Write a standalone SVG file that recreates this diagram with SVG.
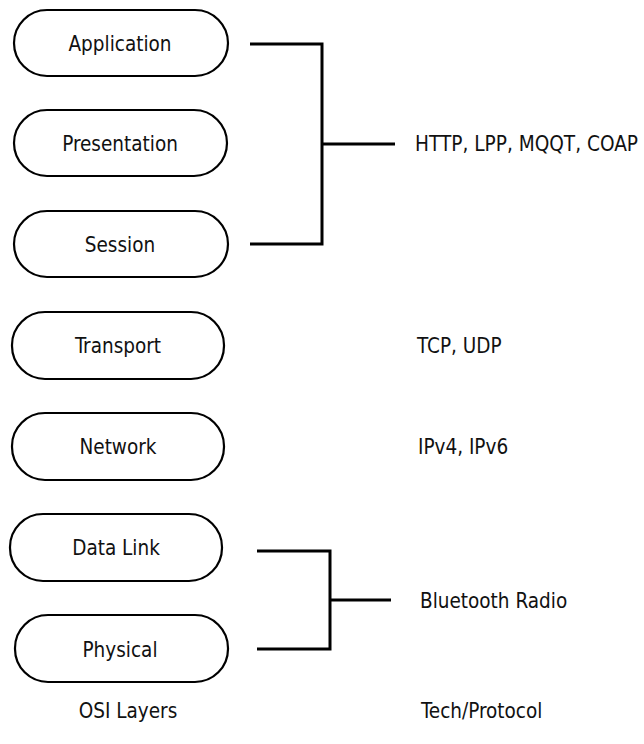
<svg xmlns="http://www.w3.org/2000/svg" width="644" height="744" viewBox="0 0 644 744">
<style>
.box{fill:#fff;stroke:#000;stroke-width:2.2}
text{font-family:"DejaVu Sans Condensed","Liberation Sans",Arial,sans-serif;font-stretch:condensed;font-size:20.5px;fill:#111}
.lbl{text-anchor:middle}
.rt{text-anchor:start}
.con{fill:none;stroke:#000;stroke-width:3;stroke-linejoin:miter}
</style>
<rect width="644" height="744" fill="#fff"/>
<g id="application"><rect class="box" x="14" y="10" width="214" height="66" rx="33"/><text class="lbl" x="120" y="51">Application</text></g>
<g id="presentation"><rect class="box" x="14" y="110" width="213" height="66" rx="33"/><text class="lbl" x="120" y="151">Presentation</text></g>
<g id="session"><rect class="box" x="14" y="211" width="214" height="66" rx="33"/><text class="lbl" x="120" y="252">Session</text></g>
<g id="transport"><rect class="box" x="12" y="312" width="212" height="67" rx="33"/><text class="lbl" x="118" y="353">Transport</text></g>
<g id="network"><rect class="box" x="12" y="413" width="212" height="67" rx="33"/><text class="lbl" x="118" y="454">Network</text></g>
<g id="datalink"><rect class="box" x="10" y="514" width="212" height="67" rx="33"/><text class="lbl" x="116" y="555">Data Link</text></g>
<g id="physical"><rect class="box" x="15" y="615" width="213" height="67" rx="33"/><text class="lbl" x="120" y="657">Physical</text></g>
<g id="connectors">
<path class="con" d="M250 44 H322 V244 H250"/>
<path class="con" d="M322 144 H395"/>
<path class="con" d="M257 551 H330 V649 H257"/>
<path class="con" d="M330 600 H391"/>
</g>
<g id="protocols">
<text class="rt" x="415" y="151" textLength="223" lengthAdjust="spacingAndGlyphs">HTTP, LPP, MQQT, COAP</text>
<text class="rt" x="417" y="353">TCP, UDP</text>
<text class="rt" x="418" y="454">IPv4, IPv6</text>
<text class="rt" x="420" y="608">Bluetooth Radio</text>
</g>
<g id="captions">
<text class="lbl" x="128" y="718">OSI Layers</text>
<text class="rt" x="421" y="718">Tech/Protocol</text>
</g>
</svg>
